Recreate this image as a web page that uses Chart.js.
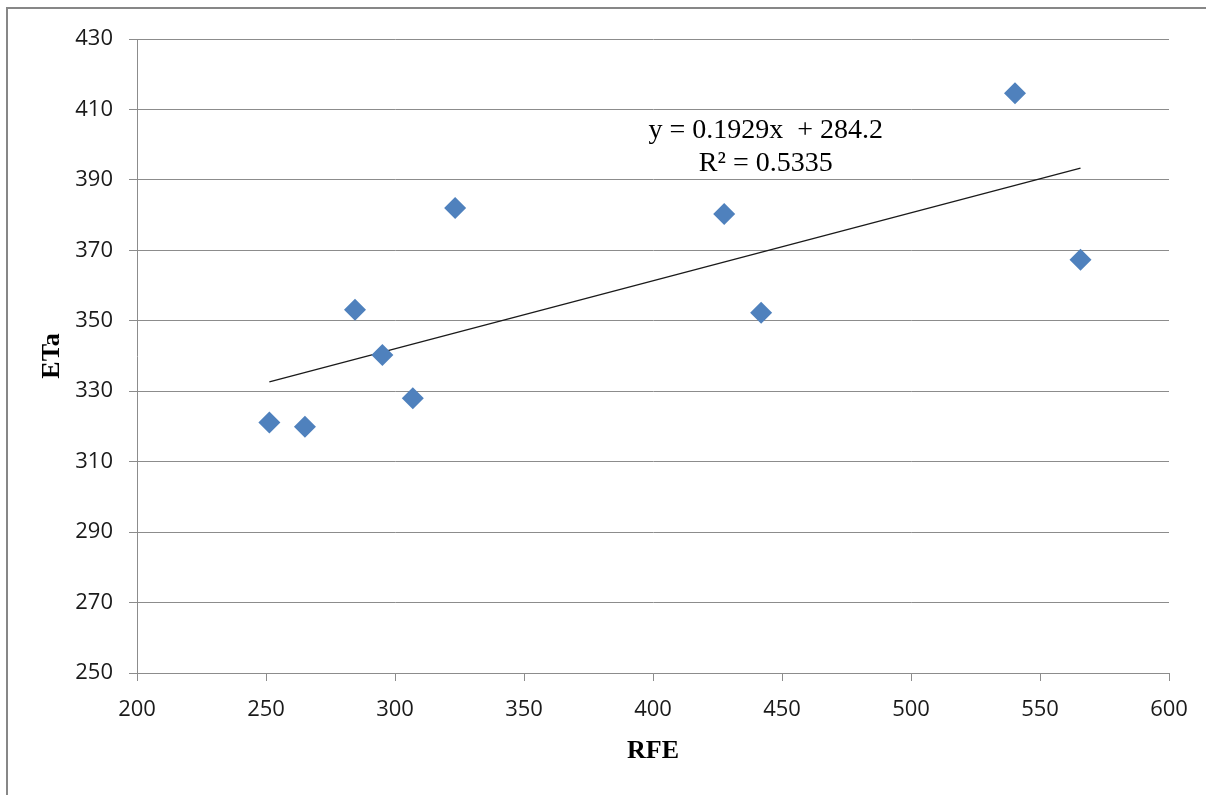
<!DOCTYPE html>
<html>
<head>
<meta charset="utf-8">
<script src="https://cdn.jsdelivr.net/npm/chart.js@4.4.1/dist/chart.umd.min.js"></script>
<style>
  html, body { margin: 0; padding: 0; background: #fff; overflow: hidden; width: 1206px; height: 795px; }
  .edge { position: absolute; background: #878787; }
  #edge-top { left: 6px; top: 7px; width: 1300px; height: 2px; }
  #edge-left { left: 6px; top: 7px; width: 2px; height: 900px; }
  #wrap { position: absolute; left: 0; top: 0; width: 1206px; height: 795px; }
</style>
</head>
<body>
<div class="edge" id="edge-top"></div>
<div class="edge" id="edge-left"></div>
<div id="wrap"><canvas id="chart"></canvas></div>
<script>
// valores
const rfe = [251.3, 265.1, 284.5, 295.1, 306.9, 323.3, 427.6, 441.9, 540.3, 565.7];
const eta = [321.1, 319.9, 353.1, 340.3, 328.0, 382.0, 380.3, 352.3, 414.6, 367.3];

// linha de tendência (equação do gráfico)
const slope = 0.1929;
const intercept = 284.2;
const eqLines = ['y = 0.1929x  + 284.2', 'R\u00B2 = 0.5335'];

const xTicks = [200, 250, 300, 350, 400, 450, 500, 550, 600];
const yTicks = [250, 270, 290, 310, 330, 350, 370, 390, 410, 430];

const points = rfe.map((x, i) => ({ x: x, y: eta[i] }));
const xMin = Math.min(...rfe);
const xMax = Math.max(...rfe);
const trend = [
    { x: xMin, y: slope * xMin + intercept },
    { x: xMax, y: slope * xMax + intercept }
];

const gridColor = '#8c8c8c';
const tickFont = { family: '"Open Sans", sans-serif', size: 22 };
const titleFont = { family: '"Liberation Serif", "Times New Roman", serif', size: 26, weight: 'bold' };

// texto da equação
const equationPlugin = {
    id: 'equation',
    afterDraw(chart) {
        const ctx = chart.ctx;
        const xs = chart.scales.x, ys = chart.scales.y;
        const cx = xs.getPixelForValue(443.7);
        const cy = ys.getPixelForValue(403.9);
        ctx.save();
        ctx.fillStyle = '#000';
        ctx.font = '28px "Liberation Serif", "Times New Roman", serif';
        ctx.textAlign = 'center';
        ctx.textBaseline = 'middle';
        ctx.fillText(eqLines[0], cx, cy);
        ctx.fillText(eqLines[1], cx, cy + 33);
        ctx.restore();
    }
};

new Chart(document.getElementById('chart'), {
    type: 'scatter',
    data: {
        datasets: [
            {
                label: 'ETa',
                data: points,
                pointStyle: 'rectRot',
                pointRadius: 11,
                pointHoverRadius: 11,
                backgroundColor: '#4f81bd',
                borderColor: '#4f81bd',
                borderWidth: 0
            },
            {
                label: 'Linear',
                data: trend,
                type: 'line',
                showLine: true,
                pointRadius: 0,
                borderColor: '#1a1a1a',
                borderWidth: 1.3,
                fill: false
            }
        ]
    },
    options: {
        responsive: true,
        maintainAspectRatio: false,
        animation: false,
        layout: { padding: { top: 39, right: 37, left: 0, bottom: 0 } },
        plugins: {
            legend: { display: false },
            tooltip: { enabled: false }
        },
        scales: {
            x: {
                type: 'linear',
                min: 200,
                max: 600,
                afterBuildTicks: (s) => { s.ticks = xTicks.map(v => ({ value: v })); },
                afterFit: (s) => { s.height = 122; },
                grid: {
                    drawOnChartArea: false,
                    drawTicks: true,
                    tickLength: 8,
                    color: gridColor,
                    lineWidth: 1
                },
                border: { color: gridColor, width: 1 },
                ticks: { color: '#1a1a1a', font: tickFont, padding: 16, maxRotation: 0 },
                title: {
                    display: true,
                    text: 'RFE',
                    color: '#000',
                    font: titleFont,
                    padding: { top: 0, bottom: 28 }
                }
            },
            y: {
                type: 'linear',
                min: 250,
                max: 430,
                afterBuildTicks: (s) => { s.ticks = yTicks.map(v => ({ value: v })); },
                afterFit: (s) => { s.width = 137; },
                grid: {
                    drawTicks: true,
                    tickLength: 8,
                    color: gridColor,
                    lineWidth: 1
                },
                border: { color: gridColor, width: 1 },
                ticks: { color: '#1a1a1a', font: tickFont, padding: 16 },
                title: {
                    display: true,
                    text: 'ETa',
                    color: '#000',
                    font: titleFont,
                    padding: { top: 37, bottom: 0 }
                }
            }
        }
    },
    plugins: [equationPlugin]
});
</script>
</body>
</html>
